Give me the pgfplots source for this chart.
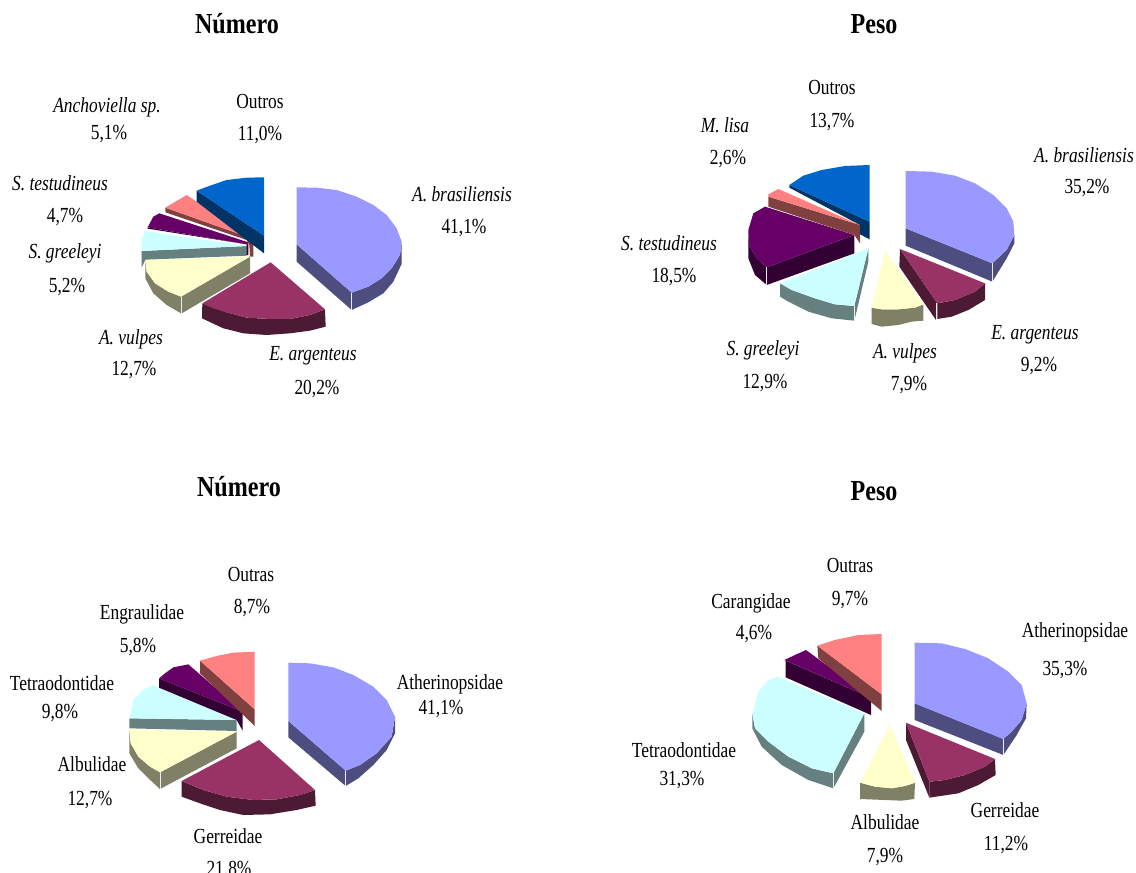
\documentclass[border=0pt]{standalone}
\usepackage{pgfplots}
\pgfplotsset{compat=1.18}
\usepackage{fontspec}
\setmainfont[FakeStretch=0.81]{Liberation Serif}
\newfontfamily\ttlfont[FakeStretch=0.83]{Liberation Serif}
\definecolor{bt}{HTML}{9999FF}\definecolor{bs}{HTML}{4D4D80}
\definecolor{mt}{HTML}{993366}\definecolor{ms}{HTML}{4D1A33}
\definecolor{yt}{HTML}{FFFFCC}\definecolor{ys}{HTML}{808066}
\definecolor{ct}{HTML}{CCFFFF}\definecolor{cs}{HTML}{668080}
\definecolor{pt}{HTML}{660066}\definecolor{ps}{HTML}{330033}
\definecolor{st}{HTML}{FF8080}\definecolor{ss}{HTML}{804040}
\definecolor{dt}{HTML}{0066CC}\definecolor{ds}{HTML}{003366}
\pgfplotsset{
  panel/.style n args={4}{scale only axis,anchor=south west,hide axis,clip=false,
    at={(#1pt,#2pt)},width=#3pt,height=180pt,
    xmin=0,xmax=#4,ymin=0,ymax=540,y dir=reverse},
  f/.style={fill=#1,draw=none,line width=0pt},
  e/.style={draw=white!85!gray,line width=0.7pt}}
\newcommand\lab[3]{\node[font=\fontsize{21.5}{22}\selectfont,text height=15pt,text depth=0pt,inner sep=0pt,anchor=center] at (axis cs:#1,#2) {#3};}
\newcommand\ttl[2]{\node[font=\fontsize{29}{30}\ttlfont\selectfont\bfseries,inner sep=0pt,text height=20pt,text depth=0pt] at (axis cs:#1) {#2};}
\begin{document}
\begin{tikzpicture}
\path[use as bounding box] (0,0) rectangle (1136pt,873pt);
\begin{axis}[scale only axis,anchor=south west,at={(0pt,0pt)},width=1136pt,height=873pt,hide axis,clip=false,
  xmin=0,xmax=1136,ymin=0,ymax=873,y dir=reverse]
\ttl{237,23}{Número}\ttl{874,23}{Peso}\ttl{239,486}{Número}\ttl{874,490}{Peso}
\lab{260}{101}{Outros}\lab{260}{133}{11,0\%}
\lab{107}{105}{\textit{Anchoviella sp.}}\lab{109}{132}{5,1\%}
\lab{60}{183}{\textit{S. testudineus}}\lab{65}{215}{4,7\%}
\lab{65}{251}{\textit{S. greeleyi}}\lab{67}{285}{5,2\%}
\lab{131}{337}{\textit{A. vulpes}}\lab{134}{368}{12,7\%}
\lab{313}{353}{\textit{E. argenteus}}\lab{317}{387}{20,2\%}
\lab{462}{194}{\textit{A. brasiliensis}}\lab{464}{226}{41,1\%}
\lab{832}{87}{Outros}\lab{832}{120}{13,7\%}
\lab{725}{125}{\textit{M. lisa}}\lab{728}{157}{2,6\%}
\lab{669}{243}{\textit{S. testudineus}}\lab{674}{275}{18,5\%}
\lab{763}{348}{\textit{S. greeleyi}}\lab{765}{381}{12,9\%}
\lab{905}{351}{\textit{A. vulpes}}\lab{909}{383}{7,9\%}
\lab{1035}{332}{\textit{E. argenteus}}\lab{1039}{364}{9,2\%}
\lab{1084}{155}{\textit{A. brasiliensis}}\lab{1087}{186}{35,2\%}
\lab{251}{574}{Outras}\lab{252}{606}{8,7\%}
\lab{142}{612}{Engraulidae}\lab{138}{645}{5,8\%}
\lab{62}{683}{Tetraodontidae}\lab{60}{711}{9,8\%}
\lab{92}{764}{Albulidae}\lab{90}{798}{12,7\%}
\lab{228}{836}{Gerreidae}\lab{229}{868}{21,8\%}
\lab{450}{682}{Atherinopsidae}\lab{441}{707}{41,1\%}
\lab{850}{565}{Outras}\lab{850}{598}{9,7\%}
\lab{751}{601}{Carangidae}\lab{754}{632}{4,6\%}
\lab{684}{750}{Tetraodontidae}\lab{682}{778}{31,3\%}
\lab{885}{822}{Albulidae}\lab{885}{855}{7,9\%}
\lab{1005}{810}{Gerreidae}\lab{1006}{843}{11,2\%}
\lab{1075}{630}{Atherinopsidae}\lab{1065}{668}{35,3\%}
\end{axis}
% Panel 1
\begin{axis}[panel={130}{528}{285}{855}]
\addplot[f=bs] coordinates {(500,238)(665,383)(665,435)(500,290)} --cycle;
\addplot[f=bs] coordinates {(665,383)(715,365)(755,340)(785,310)(810,270)(815,230)(815,297)(790,350)(760,385)(715,412)(665,435)} --cycle;
\addplot[f=bt] coordinates {(500,67)(560,68)(620,75)(680,95)(730,120)(770,150)(800,190)(815,230)(810,270)(785,310)(755,340)(715,365)(665,383)(500,238)} --cycle;
\addplot[e] coordinates {(665,383)(665,435)};
\addplot[f=ms] coordinates {(217,415)(290,442)(350,458)(420,462)(480,462)(540,450)(585,433)(587,485)(540,497)(480,505)(410,510)(340,505)(280,490)(216,460)} --cycle;
\addplot[f=mt] coordinates {(422,292)(585,433)(540,450)(480,462)(420,462)(350,458)(290,442)(250,430)(217,415)} --cycle;
\addplot[f=ys] coordinates {(153,395)(360,275)(360,325)(155,445)} --cycle;
\addplot[f=ys] coordinates {(46,285)(46,340)(70,385)(110,420)(153,445)(153,395)(115,380)(75,355)(50,320)} --cycle;
\addplot[f=yt] coordinates {(360,275)(46,285)(50,320)(75,355)(115,380)(153,395)} --cycle;
\addplot[e] coordinates {(153,395)(153,445)};
\addplot[f=cs] coordinates {(35,258)(352,243)(352,272)(46,284)(35,308)} --cycle;
\addplot[f=ct] coordinates {(352,243)(45,198)(35,225)(35,258)} --cycle;
\addplot[f=ps] coordinates {(350,238)(355,232)(355,270)(350,270)} --cycle;
\addplot[f=ps] coordinates {(53,187)(350,238)(53,191)} --cycle;
\addplot[f=pt] coordinates {(355,232)(88,145)(70,155)(53,187)(350,238)} --cycle;
\addplot[f=ss] coordinates {(106,128)(106,142)(350,225)(358,240)(360,275)(370,275)(370,222)} --cycle;
\addplot[f=st] coordinates {(370,222)(170,90)(106,128)} --cycle;
\addplot[f=ds] coordinates {(200,77)(402,212)(402,265)(200,110)} --cycle;
\addplot[f=dt] coordinates {(402,37)(350,38)(290,45)(240,62)(200,77)(402,212)} --cycle;
\end{axis}
% Panel 2
\begin{axis}[panel={735}{538}{290}{870}]
\addplot[f=bs] coordinates {(512,220)(772,325)(772,380)(512,272)} --cycle;
\addplot[f=bs] coordinates {(772,325)(815,285)(838,240)(838,265)(815,310)(772,380)} --cycle;
\addplot[f=bt] coordinates {(512,48)(590,50)(660,62)(720,85)(775,120)(815,160)(835,200)(838,240)(815,285)(772,325)(512,220)} --cycle;
\addplot[e] coordinates {(772,325)(772,380)};
\addplot[f=ms] coordinates {(607,445)(660,435)(720,410)(750,385)(750,435)(700,465)(650,485)(607,492)} --cycle;
\addplot[f=ms] coordinates {(495,282)(607,445)(603,495)(493,335)} --cycle;
\addplot[f=mt] coordinates {(495,282)(750,385)(720,410)(660,435)(607,445)} --cycle;
\addplot[e] coordinates {(604,445)(604,495)};
\addplot[f=ys] coordinates {(410,458)(440,463)(490,463)(540,458)(565,448)(565,497)(530,500)(490,510)(440,515)(410,507)} --cycle;
\addplot[f=yt] coordinates {(450,288)(565,448)(540,458)(490,463)(440,463)(410,458)} --cycle;
\addplot[f=cs] coordinates {(135,385)(170,405)(240,430)(300,448)(358,453)(358,497)(290,490)(220,470)(160,440)(135,425)} --cycle;
\addplot[f=cs] coordinates {(400,280)(358,453)(358,497)(400,320)} --cycle;
\addplot[f=ct] coordinates {(400,280)(358,453)(300,448)(240,430)(170,405)(135,385)} --cycle;
\addplot[e] coordinates {(358,453)(358,497)};
\addplot[f=ps] coordinates {(95,337)(358,240)(358,295)(95,390)} --cycle;
\addplot[f=ps] coordinates {(40,225)(42,270)(65,310)(95,337)(95,390)(60,360)(40,310)} --cycle;
\addplot[f=pt] coordinates {(358,240)(95,337)(65,310)(42,270)(40,225)(55,175)(90,155)} --cycle;
\addplot[e] coordinates {(95,337)(95,390)};
\addplot[f=ss] coordinates {(100,125)(375,210)(375,265)(358,240)(100,155)} --cycle;
\addplot[f=st] coordinates {(375,210)(130,102)(100,118)(100,125)} --cycle;
\addplot[f=ds] coordinates {(163,90)(404,200)(404,253)(375,238)(375,210)(163,98)} --cycle;
\addplot[f=dt] coordinates {(404,30)(330,33)(260,45)(205,62)(163,90)(404,200)} --cycle;
\end{axis}
% Panel 3
\begin{axis}[panel={120}{53}{285}{855}]
\addplot[f=bs] coordinates {(505,243)(677,392)(677,438)(505,292)} --cycle;
\addplot[f=bs] coordinates {(677,392)(720,375)(770,340)(815,290)(825,230)(825,280)(800,330)(760,375)(715,415)(677,438)} --cycle;
\addplot[f=bt] coordinates {(505,68)(570,70)(640,82)(700,105)(760,140)(800,180)(825,230)(815,290)(770,340)(720,375)(677,392)(505,243)} --cycle;
\addplot[e] coordinates {(677,392)(677,438)};
\addplot[f=ms] coordinates {(185,423)(250,450)(320,470)(400,480)(470,478)(540,465)(585,450)(587,497)(530,510)(450,523)(370,525)(300,510)(240,490)(185,470)} --cycle;
\addplot[f=mt] coordinates {(417,300)(585,450)(540,465)(470,478)(400,480)(320,470)(250,450)(185,423)} --cycle;
\addplot[f=ys] coordinates {(120,397)(350,275)(350,325)(120,447)} --cycle;
\addplot[f=ys] coordinates {(28,268)(28,340)(55,385)(85,415)(120,447)(120,397)(90,380)(55,350)(32,310)} --cycle;
\addplot[f=yt] coordinates {(350,275)(28,268)(32,310)(55,350)(90,380)(120,397)} --cycle;
\addplot[e] coordinates {(120,397)(120,447)};
\addplot[f=cs] coordinates {(28,235)(350,240)(350,273)(28,265)} --cycle;
\addplot[f=ct] coordinates {(350,240)(97,135)(70,150)(40,180)(28,235)} --cycle;
\addplot[f=ps] coordinates {(117,115)(368,215)(368,272)(350,240)(117,143)} --cycle;
\addplot[f=pt] coordinates {(368,215)(205,73)(160,82)(135,100)(117,115)} --cycle;
\addplot[f=ss] coordinates {(240,62)(404,208)(404,258)(240,100)} --cycle;
\addplot[f=st] coordinates {(404,35)(340,38)(290,48)(240,62)(404,208)} --cycle;
\end{axis}
% Panel 4
\begin{axis}[panel={745}{68}{290}{870}]
\addplot[f=bs] coordinates {(509,235)(775,342)(775,390)(509,285)} --cycle;
\addplot[f=bs] coordinates {(775,342)(800,320)(830,285)(845,235)(843,280)(815,330)(775,390)} --cycle;
\addplot[f=bt] coordinates {(509,53)(590,55)(660,72)(730,100)(790,140)(830,180)(845,235)(830,285)(800,320)(775,342)(509,235)} --cycle;
\addplot[e] coordinates {(775,342)(775,390)};
\addplot[f=ms] coordinates {(553,470)(600,465)(660,450)(720,425)(750,402)(752,450)(700,480)(640,505)(553,518)} --cycle;
\addplot[f=ms] coordinates {(483,293)(553,470)(553,518)(483,345)} --cycle;
\addplot[f=mt] coordinates {(483,293)(750,402)(720,425)(660,450)(600,465)(553,470)} --cycle;
\addplot[f=ys] coordinates {(345,473)(390,485)(440,490)(480,483)(510,473)(508,522)(470,527)(345,522)} --cycle;
\addplot[f=yt] coordinates {(435,300)(510,473)(480,483)(440,490)(390,485)(345,473)} --cycle;
\addplot[f=cs] coordinates {(358,265)(265,445)(265,490)(358,320)} --cycle;
\addplot[f=cs] coordinates {(22,265)(22,310)(50,365)(110,420)(190,465)(265,490)(265,445)(200,430)(130,395)(70,350)(30,310)} --cycle;
\addplot[f=ct] coordinates {(358,265)(265,445)(200,430)(130,395)(70,350)(30,310)(22,265)(40,200)(70,165)(97,155)} --cycle;
\addplot[e] coordinates {(265,445)(265,490)};
\addplot[f=ps] coordinates {(122,107)(378,218)(378,270)(122,157)} --cycle;
\addplot[f=pt] coordinates {(378,218)(183,75)(150,90)(118,105)} --cycle;
\addplot[f=ss] coordinates {(217,62)(410,208)(410,258)(220,100)} --cycle;
\addplot[f=st] coordinates {(410,27)(340,30)(270,45)(217,62)(410,208)} --cycle;
\end{axis}
\end{tikzpicture}
\end{document}
